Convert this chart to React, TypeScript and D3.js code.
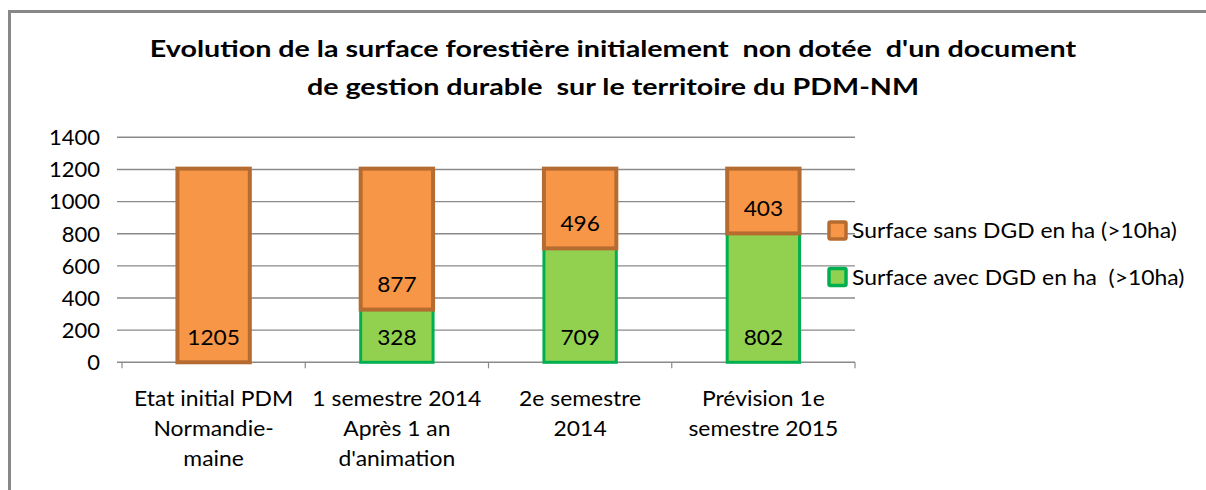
import React from "react";
import * as d3 from "d3";

// categories (each label split into its lines)
const categories = ["Etat initial PDM", "1 semestre 2014", "2e semestre", "Prévision 1e"];
const categoryLines = [
  ["Etat initial PDM", "Normandie-", "maine"],
  ["1 semestre 2014", "Après 1 an", "d'animation"],
  ["2e semestre", "2014"],
  ["Prévision 1e", "semestre 2015"],
];
const avecDGD = [0, 328, 709, 802];
const sansDGD = [1205, 877, 496, 403];
const yTicks = [0, 200, 400, 600, 800, 1000, 1200, 1400];
const seriesNames = ["Surface sans DGD en ha (>10ha)", "Surface avec DGD en ha  (>10ha)"];
const titleLines = [
  "Evolution de la surface forestière initialement  non dotée  d'un document",
  "de gestion durable  sur le territoire du PDM-NM",
];

const W = 1206;
const H = 490;
const FONT = "Lato, 'Open Sans', sans-serif";
const ORANGE = "#F79646";
const ORANGE_LINE = "#B66C31";
const GREEN = "#92D050";
const GREEN_LINE = "#00B050";
const GRID = "#8a8a8a";

// horizontal stretch around an anchor x (the reference text is a bit wider than Lato)
const stretch = (ax: number, s: number) => `translate(${ax},0) scale(${s},1) translate(${-ax},0)`;

export default function App() {
  const x = d3.scaleBand<string>().domain(categories).range([122, 855]).padding(0);
  const y = d3.scaleLinear().domain([0, 1400]).range([362.3, 137.3]);
  const bw = x.bandwidth() * 0.395;
  const cx = (c: string) => (x(c) as number) + x.bandwidth() / 2;
  const edges = categories.map((c) => x(c) as number).concat([855]);

  return (
    <div style={{ position: "absolute", left: 0, top: 0 }}>
      <svg width={W} height={H} style={{ display: "block", background: "#fff" }}>
        {/* frame */}
        <path d={`M9.5,${H} V11.5 H${W}`} fill="none" stroke="#888888" strokeWidth={3} />

        {/* title */}
        <text transform={stretch(613, 1.275)} textAnchor="middle" fontFamily={FONT} fontWeight="bold" fontSize={22.5}
          fill="#000" style={{ whiteSpace: "pre" }}>
          {titleLines.map((t, i) => (
            <tspan key={i} x={613} y={57.5 + i * 38}>{t}</tspan>
          ))}
        </text>

        {/* gridlines */}
        {yTicks.map((t) => (
          <line key={t} x1={117} x2={855} y1={y(t)} y2={y(t)} stroke={GRID} strokeWidth={1.4} />
        ))}
        {/* category ticks */}
        {edges.map((e, i) => (
          <line key={i} x1={e} x2={e} y1={y(0)} y2={y(0) + 6} stroke={GRID} strokeWidth={1.2} />
        ))}

        {/* y tick labels */}
        {yTicks.map((t) => (
          <text key={t} x={100} y={y(t) + 7.8} textAnchor="end" fontFamily={FONT} fontSize={22} fill="#000">
            {t}
          </text>
        ))}

        {/* bars: green (avec) at bottom, orange (sans) on top */}
        {categories.map((c, i) =>
          avecDGD[i] > 0 ? (
            <rect key={"g" + c} x={cx(c) - bw / 2} y={y(avecDGD[i])} width={bw} height={y(0) - y(avecDGD[i])}
              fill={GREEN} stroke={GREEN_LINE} strokeWidth={3} />
          ) : null
        )}
        {categories.map((c, i) => (
          <rect key={"o" + c} x={cx(c) - bw / 2} y={y(avecDGD[i] + sansDGD[i])} width={bw}
            height={y(avecDGD[i]) - y(avecDGD[i] + sansDGD[i])}
            fill={ORANGE} stroke={ORANGE_LINE} strokeWidth={4} />
        ))}

        {/* data labels (inside base) */}
        {categories.map((c, i) => (
          <g key={"l" + c} fontFamily={FONT} fontSize={21} textAnchor="middle" fill="#000"
            transform={stretch(cx(c), 1.08)}>
            {avecDGD[i] > 0 && <text x={cx(c)} y={y(0) - 17.5}>{avecDGD[i]}</text>}
            <text x={cx(c)} y={y(avecDGD[i]) - 17.5}>{sansDGD[i]}</text>
          </g>
        ))}

        {/* category labels */}
        {categories.map((c, i) => (
          <text key={"c" + c} textAnchor="middle" fontFamily={FONT} fontSize={21} fill="#000"
            transform={stretch(cx(c), 1.09)}>
            {categoryLines[i].map((l, j) => (
              <tspan key={j} x={cx(c)} y={406 + j * 30}>{l}</tspan>
            ))}
          </text>
        ))}

        {/* legend */}
        {seriesNames.map((s, i) => (
          <g key={s} transform={`translate(0, ${230.5 + i * 46.5})`}>
            <rect x={829} y={-8.5} width={17} height={17} rx={1.5}
              fill={i === 0 ? ORANGE : GREEN} stroke={i === 0 ? ORANGE_LINE : GREEN_LINE} strokeWidth={3.5} />
            <text x={852} y={7.5} transform={stretch(852, 1.09)} fontFamily={FONT} fontSize={21} fill="#000"
              style={{ whiteSpace: "pre" }}>
              {s}
            </text>
          </g>
        ))}
      </svg>
    </div>
  );
}
